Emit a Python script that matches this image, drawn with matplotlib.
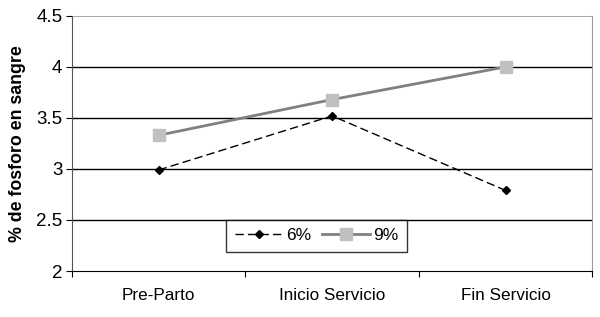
import matplotlib
matplotlib.use("Agg")
import matplotlib.pyplot as plt

categorias = ["Pre-Parto", "Inicio Servicio", "Fin Servicio"]
serie_6 = [2.99, 3.52, 2.79]
serie_9 = [3.33, 3.68, 4.00]
yticks = [2, 2.5, 3, 3.5, 4, 4.5]
ytick_labels = ["2", "2.5", "3", "3.5", "4", "4.5"]

plt.rcParams["font.family"] = ["Liberation Sans", "DejaVu Sans"]

fig = plt.figure(figsize=(6.0, 3.17), dpi=100)
ax = fig.add_axes([0.12, 0.145, 0.867, 0.805])

x = [i + 0.5 for i in range(len(categorias))]

for y in yticks[1:-1]:
    ax.axhline(y, color="black", lw=1.0, zorder=1)
ax.axhline(yticks[-1], color="#999999", lw=1.2, zorder=1)

ax.plot(x, serie_6, color="black", ls=(0, (6, 3)), lw=1.0,
        marker="D", ms=4.5, mfc="black", mec="black", label="6%", zorder=3)
ax.plot(x, serie_9, color="#808080", lw=2.0,
        marker="s", ms=9, mfc="#c0c0c0", mec="#c0c0c0", label="9%", zorder=3)

ax.set_xlim(0, 3)
ax.set_ylim(2, 4.5)
ax.set_yticks(yticks)
ax.set_yticklabels(ytick_labels, fontsize=13.5)
ax.set_xticks([0, 1, 2, 3])
ax.set_xticklabels([])
ax.set_xticks(x, minor=True)
ax.set_xticklabels(categorias, minor=True, fontsize=12.3)
ax.tick_params(axis="x", which="minor", length=0, pad=12)
ax.tick_params(axis="x", which="major", length=4, direction="out", color="black")
ax.tick_params(axis="y", length=4, direction="out", pad=3)

ax.set_ylabel("% de fosforo en sangre", fontsize=12.8, fontweight="bold", labelpad=7)

ax.spines["top"].set_visible(False)
ax.spines["right"].set_color("#999999")
ax.spines["left"].set_color("#555555")
ax.spines["bottom"].set_color("black")

leg = ax.legend(loc="lower left", bbox_to_anchor=(0.28, 0.04), ncol=2,
                frameon=True, fancybox=False, fontsize=12.5, handlelength=2.8,
                columnspacing=0.6, handletextpad=0.15, borderpad=0.5)
leg.get_frame().set_edgecolor("black")
leg.get_frame().set_linewidth(1.0)

fig.savefig("out.png", dpi=100)
